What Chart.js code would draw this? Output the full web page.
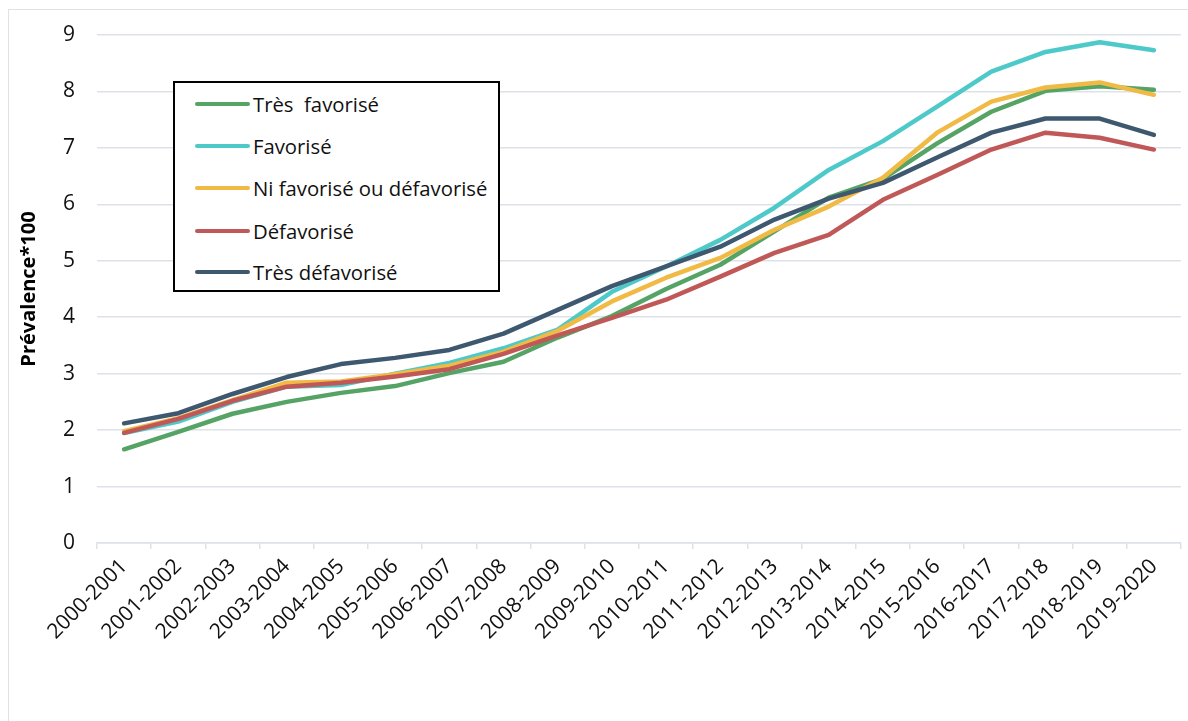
<!DOCTYPE html>
<html>
<head>
<meta charset="utf-8">
<script src="https://cdn.jsdelivr.net/npm/chart.js@4/dist/chart.umd.min.js"></script>
<style>
  html, body { margin: 0; padding: 0; background: #fff; }
  body { width: 1188px; height: 721px; position: relative; overflow: hidden; font-family: "Open Sans", "Noto Sans", sans-serif; }
  #frame { position: absolute; left: 8px; top: 9px; width: 1200px; height: 730px; border: 1px solid #dde1e8; box-sizing: border-box; }
  #wrap { position: absolute; left: 0; top: 0; width: 1188px; height: 721px; }
  #legend { position: absolute; left: 173px; top: 81px; width: 327px; height: 211px; border: 2px solid #000; box-sizing: border-box; background: #fff; }
  .row { position: absolute; left: 20px; height: 26px; display: flex; align-items: center; font-size: 20.3px; color: #111; white-space: pre; }
  .swatch { width: 55px; height: 4.5px; border-radius: 3px; margin-right: 3px; }
</style>
</head>
<body>
<div id="frame"></div>
<div id="wrap"><canvas id="prevChart"></canvas></div>
<div id="legend"></div>
<script>
// Données
const periodes = ['2000-2001', '2001-2002', '2002-2003', '2003-2004', '2004-2005', '2005-2006', '2006-2007',
    '2007-2008', '2008-2009', '2009-2010', '2010-2011', '2011-2012', '2012-2013', '2013-2014', '2014-2015',
    '2015-2016', '2016-2017', '2017-2018', '2018-2019', '2019-2020'];
const nomsSeries = ['Très  favorisé', 'Favorisé', 'Ni favorisé ou défavorisé', 'Défavorisé', 'Très défavorisé'];
const tresFavorise = [1.66, 1.97, 2.29, 2.50, 2.66, 2.78, 3.01, 3.21, 3.64, 4.02, 4.50, 4.93, 5.52, 6.12, 6.45, 7.08, 7.64, 8.01, 8.09, 8.03];
const favorise = [1.95, 2.15, 2.50, 2.77, 2.80, 3.00, 3.19, 3.45, 3.78, 4.45, 4.90, 5.37, 5.94, 6.61, 7.12, 7.73, 8.35, 8.70, 8.87, 8.73];
const niFavNiDefav = [1.98, 2.21, 2.53, 2.84, 2.86, 2.99, 3.14, 3.39, 3.76, 4.28, 4.70, 5.05, 5.55, 5.96, 6.47, 7.27, 7.82, 8.07, 8.16, 7.94];
const defavorise = [1.95, 2.20, 2.52, 2.77, 2.84, 2.95, 3.08, 3.35, 3.68, 3.99, 4.31, 4.72, 5.14, 5.46, 6.08, 6.52, 6.97, 7.27, 7.18, 6.97];
const tresDefavorise = [2.12, 2.30, 2.64, 2.94, 3.17, 3.28, 3.42, 3.71, 4.13, 4.55, 4.90, 5.25, 5.73, 6.10, 6.38, 6.83, 7.27, 7.52, 7.52, 7.23];
const yTicks = [0, 1, 2, 3, 4, 5, 6, 7, 8, 9];

const couleurs = ['rgb(86,163,102)', 'rgb(78,201,201)', 'rgb(240,186,68)', 'rgb(192,88,88)', 'rgb(62,88,112)'];
const valeurs = [tresFavorise, favorise, niFavNiDefav, defavorise, tresDefavorise];

const police = '"Open Sans", "Noto Sans", sans-serif';
const grille = 'rgb(221,225,232)';

const datasets = valeurs.map((v, i) => ({
    label: nomsSeries[i],
    data: v,
    borderColor: couleurs[i],
    backgroundColor: couleurs[i],
    borderWidth: 4.5,
    pointRadius: 0,
    tension: 0,
    borderCapStyle: 'round',
    borderJoinStyle: 'round',
    order: valeurs.length - 1 - i
}));

const ctx = document.getElementById('prevChart');
const chart = new Chart(ctx, {
    type: 'line',
    data: { labels: periodes, datasets: datasets },
    options: {
        responsive: true,
        maintainAspectRatio: false,
        animation: false,
        layout: { padding: { top: 35, right: 7, bottom: 0, left: 0 } },
        plugins: { legend: { display: false }, tooltip: { enabled: false } },
        scales: {
            x: {
                offset: true,
                afterFit: (s) => { s.height = 178; },
                grid: { offset: true, drawOnChartArea: false, drawTicks: true, tickLength: 6, color: grille, lineWidth: 1.5 },
                border: { display: true, color: grille, width: 1.5 },
                ticks: { minRotation: 45, maxRotation: 45, autoSkip: false, padding: 5, color: '#111', font: { family: police, size: 21 } }
            },
            y: {
                min: 0,
                max: 9,
                afterFit: (s) => { s.width = 97; },
                afterBuildTicks: (s) => { s.ticks = yTicks.map(v => ({ value: v })); },
                grid: { color: grille, lineWidth: 1.5, drawTicks: false },
                border: { display: false },
                ticks: { padding: 22, color: '#111', font: { family: police, size: 21 } },
                title: { display: true, text: 'Prévalence*100', color: '#000', font: { family: police, size: 20, weight: 'bold' }, padding: { top: 17, bottom: 0 } }
            }
        }
    }
});

// Légende encadrée, construite à partir des séries
const legende = document.getElementById('legend');
const rangees = [21, 63, 105, 148, 189];
chart.data.datasets.forEach((ds, i) => {
    const r = document.createElement('div');
    r.className = 'row';
    r.style.top = (rangees[i] - 13) + 'px';
    const sw = document.createElement('div');
    sw.className = 'swatch';
    sw.style.background = ds.borderColor;
    const t = document.createElement('span');
    t.textContent = ds.label;
    r.appendChild(sw);
    r.appendChild(t);
    legende.appendChild(r);
});
</script>
</body>
</html>
